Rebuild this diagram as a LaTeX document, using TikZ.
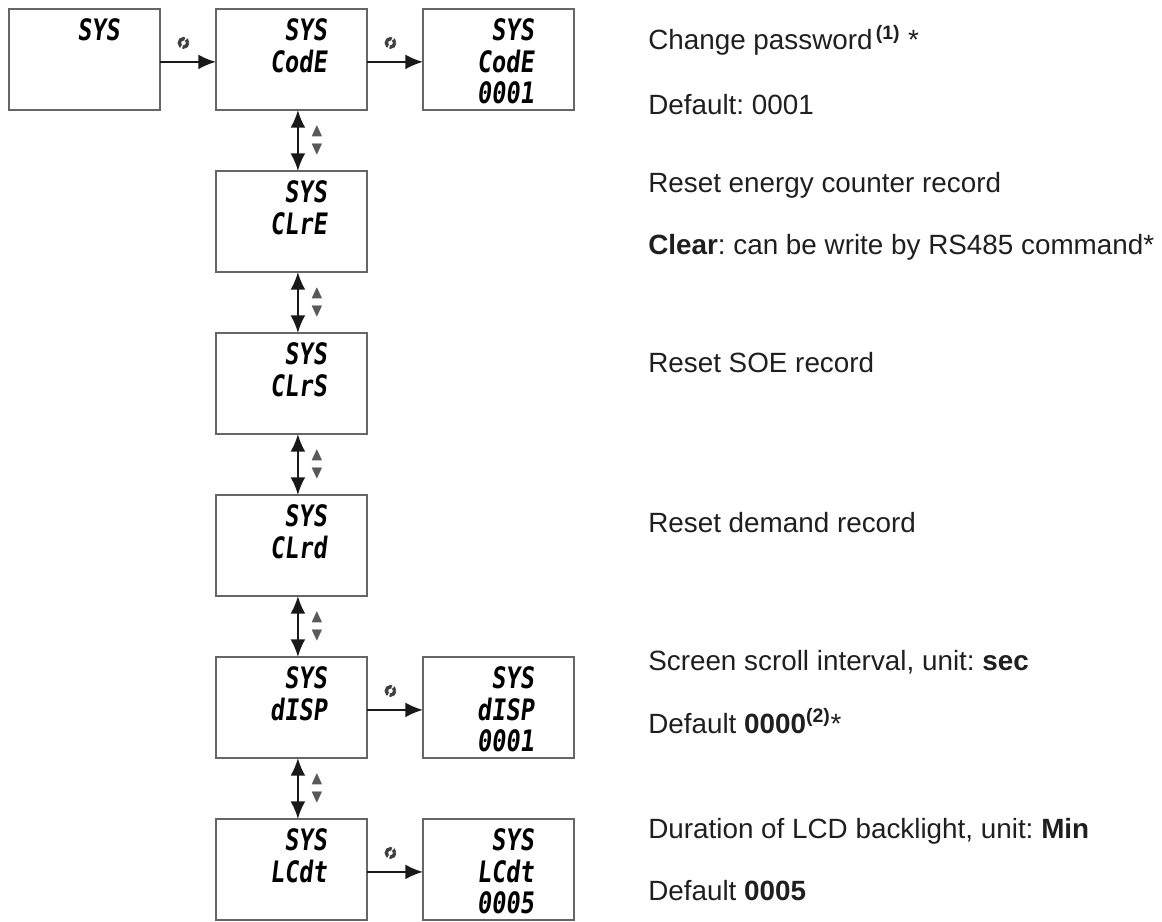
\documentclass[tikz,border=0pt]{standalone}
\usepackage{amssymb}
\usepackage{fontspec}
\setmainfont{Liberation Sans}
\newfontfamily\lcdfont[FakeStretch=0.8,FakeSlant=0.12]{DejaVu Sans Mono}
\usetikzlibrary{positioning,arrows.meta}
\frenchspacing

\begin{document}
\begin{tikzpicture}[
    x=0.25mm, y=-0.25mm,
    >={Latex[length=4.4mm,width=3.7mm]},
    screen/.style={draw=black!60, line width=0.5mm, minimum width=37.75mm, minimum height=25.25mm, inner sep=0pt, outer sep=0pt},
    lcd/.style={font=\lcdfont\bfseries\fontsize{21}{22.6}\selectfont, align=right, anchor=north east, inner sep=0pt, xshift=-10mm, yshift=-2.3mm},
    nav/.style={line width=0.5mm, black!90},
    enter/.style={circle, draw=black!75, line width=0.85mm, minimum size=2.1mm, inner sep=0pt, dash pattern=on 2.85mm off 0.45mm, dash phase=2mm},
    scroll/.style={font=\fontsize{13}{13}\selectfont, text=black!65, align=center, inner sep=0pt},
    info/.style={anchor=base west, inner sep=0pt, font=\fontsize{19.8}{24}\selectfont, text=black!88},
  ]
  \useasboundingbox (0,0) rectangle (1162,922);
  \node[screen] (sys) at (84.5,59.5) {};
  \node[screen, right=14mm of sys] (code) {};
  \node[screen, right=14mm of code] (codeset) {};
  \node[screen, below=15.25mm of code] (clre) {};
  \node[screen, below=15.25mm of clre] (clrs) {};
  \node[screen, below=15.25mm of clrs] (clrd) {};
  \node[screen, below=15.25mm of clrd] (disp) {};
  \node[screen, right=14mm of disp] (dispset) {};
  \node[screen, below=15.25mm of disp] (lcdt) {};
  \node[screen, right=14mm of lcdt] (lcdtset) {};

  \node[lcd] (sysT) at (sys.north east) {SYS};
  \node[lcd] (codeT) at (code.north east) {SYS\\CodE};
  \node[lcd] (codesetT) at (codeset.north east) {SYS\\CodE\\0001};
  \node[lcd] (clreT) at (clre.north east) {SYS\\CLrE};
  \node[lcd] (clrsT) at (clrs.north east) {SYS\\CLrS};
  \node[lcd] (clrdT) at (clrd.north east) {SYS\\CLrd};
  \node[lcd] (dispT) at (disp.north east) {SYS\\dISP};
  \node[lcd] (dispsetT) at (dispset.north east) {SYS\\dISP\\0001};
  \node[lcd] (lcdtT) at (lcdt.north east) {SYS\\LCdt};
  \node[lcd] (lcdtsetT) at (lcdtset.north east) {SYS\\LCdt\\0005};

  \draw[->, nav] ([yshift=-0.6mm]sys.east) -- node[enter, pos=0.42, yshift=4.75mm] {} ([yshift=-0.6mm]code.west);
  \draw[->, nav] ([yshift=-0.6mm]code.east) -- node[enter, pos=0.42, yshift=4.75mm] {} ([yshift=-0.6mm]codeset.west);
  \draw[->, nav] ([yshift=-0.6mm]disp.east) -- node[enter, pos=0.42, yshift=4.75mm] {} ([yshift=-0.6mm]dispset.west);
  \draw[->, nav] ([yshift=-0.6mm]lcdt.east) -- node[enter, pos=0.42, yshift=4.75mm] {} ([yshift=-0.6mm]lcdtset.west);

  \draw[<->, nav] ([xshift=1.6mm]code.south) -- node[scroll, xshift=4.75mm] {$\blacktriangle$\\$\blacktriangledown$} ([xshift=1.6mm]clre.north);
  \draw[<->, nav] ([xshift=1.6mm]clre.south) -- node[scroll, xshift=4.75mm] {$\blacktriangle$\\$\blacktriangledown$} ([xshift=1.6mm]clrs.north);
  \draw[<->, nav] ([xshift=1.6mm]clrs.south) -- node[scroll, xshift=4.75mm] {$\blacktriangle$\\$\blacktriangledown$} ([xshift=1.6mm]clrd.north);
  \draw[<->, nav] ([xshift=1.6mm]clrd.south) -- node[scroll, xshift=4.75mm] {$\blacktriangle$\\$\blacktriangledown$} ([xshift=1.6mm]disp.north);
  \draw[<->, nav] ([xshift=1.6mm]disp.south) -- node[scroll, xshift=4.75mm] {$\blacktriangle$\\$\blacktriangledown$} ([xshift=1.6mm]lcdt.north);

  \node[info] (codeNote) at (648,50) {Change password\textsuperscript{\,\textbf{(1)}}\ *};
  \node[info] (codeDef) at (648,115) {Default: 0001};
  \node[info] (clreNote) at (648,193) {Reset energy counter record};
  \node[info] (clreDef) at (648,255) {\textbf{Clear}: can be write by RS485 command*};
  \node[info] (clrsNote) at (648,373) {Reset SOE record};
  \node[info] (clrdNote) at (648,532) {Reset demand record};
  \node[info] (dispNote) at (648,670) {Screen scroll interval, unit: \textbf{sec}};
  \node[info] (dispDef) at (648,733) {Default \textbf{0000}\textsuperscript{\textbf{(2)}}*};
  \node[info] (lcdtNote) at (648,838) {Duration of LCD backlight, unit: \textbf{Min}};
  \node[info] (lcdtDef) at (648,900) {Default \textbf{0005}};
\end{tikzpicture}
\end{document}
